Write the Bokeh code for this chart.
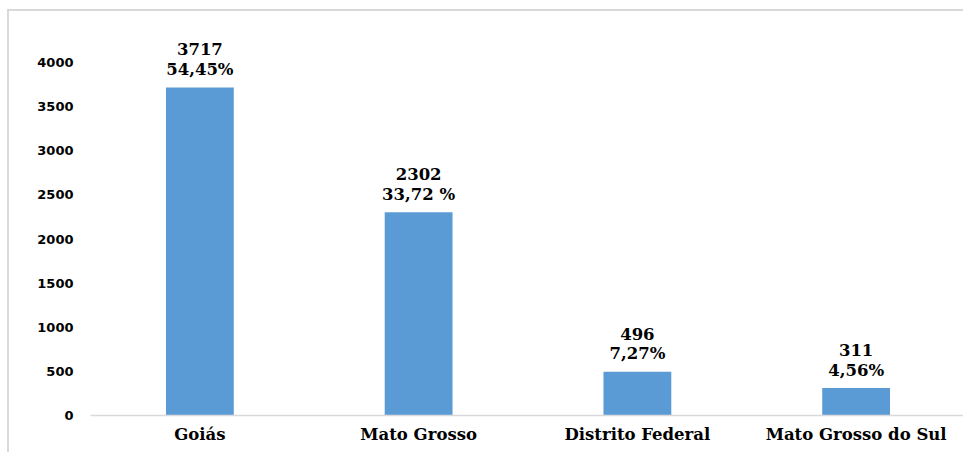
from bokeh.plotting import figure
from bokeh.models import ColumnDataSource, Range1d, FixedTicker
from bokeh.embed import file_html
from bokeh.resources import INLINE
from bokeh.core.properties import value

states = ["Goiás", "Mato Grosso", "Distrito Federal", "Mato Grosso do Sul"]
counts = [3717, 2302, 496, 311]
shares = ["54,45%", "33,72 %", "7,27%", "4,56%"]
y_ticks = [0, 500, 1000, 1500, 2000, 2500, 3000, 3500, 4000]

src = ColumnDataSource(dict(
    state=states,
    count=counts,
    count_label=[str(c) for c in counts],
    share=shares,
))

p = figure(
    x_range=states, y_range=Range1d(0, 4476),
    width=956, height=443,
    output_backend="svg", toolbar_location=None,
    min_border_left=81, min_border_right=0,
    min_border_top=9, min_border_bottom=39,
    styles={"border-left": "2px solid #d9d9d9", "border-top": "2px solid #d9d9d9",
            "margin-left": "7px", "margin-top": "9px"},
)

p.vbar(x="state", top="count", width=0.31, source=src,
       fill_color="#5b9bd5", line_color=None)

common = dict(source=src, text_align="center", text_baseline="middle",
              text_font=value("DejaVu Serif"), text_font_style="bold",
              text_font_size="16.5px", text_color="black")
p.text(x="state", y="count", text="share", y_offset=-18, **common)
p.text(x="state", y="count", text="count_label", y_offset=-38, **common)

p.xgrid.visible = False
p.ygrid.visible = False
p.outline_line_color = None

p.yaxis.ticker = FixedTicker(ticks=y_ticks)
p.yaxis.axis_line_color = None
p.yaxis.major_tick_line_color = None
p.yaxis.minor_tick_line_color = None
p.yaxis.major_tick_out = 0
p.yaxis.major_label_standoff = 17
p.yaxis.major_label_text_font = "DejaVu Sans"
p.yaxis.major_label_text_font_style = "bold"
p.yaxis.major_label_text_font_size = "13px"
p.yaxis.major_label_text_color = "black"

p.xaxis.axis_line_color = "#d9d9d9"
p.xaxis.axis_line_width = 1.5
p.xaxis.major_tick_line_color = None
p.xaxis.minor_tick_line_color = None
p.xaxis.major_tick_out = 0
p.xaxis.major_label_standoff = 9
p.xaxis.major_label_text_font = "DejaVu Serif"
p.xaxis.major_label_text_font_style = "bold"
p.xaxis.major_label_text_font_size = "16.5px"
p.xaxis.major_label_text_color = "black"

p.background_fill_color = "white"
p.border_fill_color = "white"

open("out.html", "w").write(file_html(p, INLINE))
